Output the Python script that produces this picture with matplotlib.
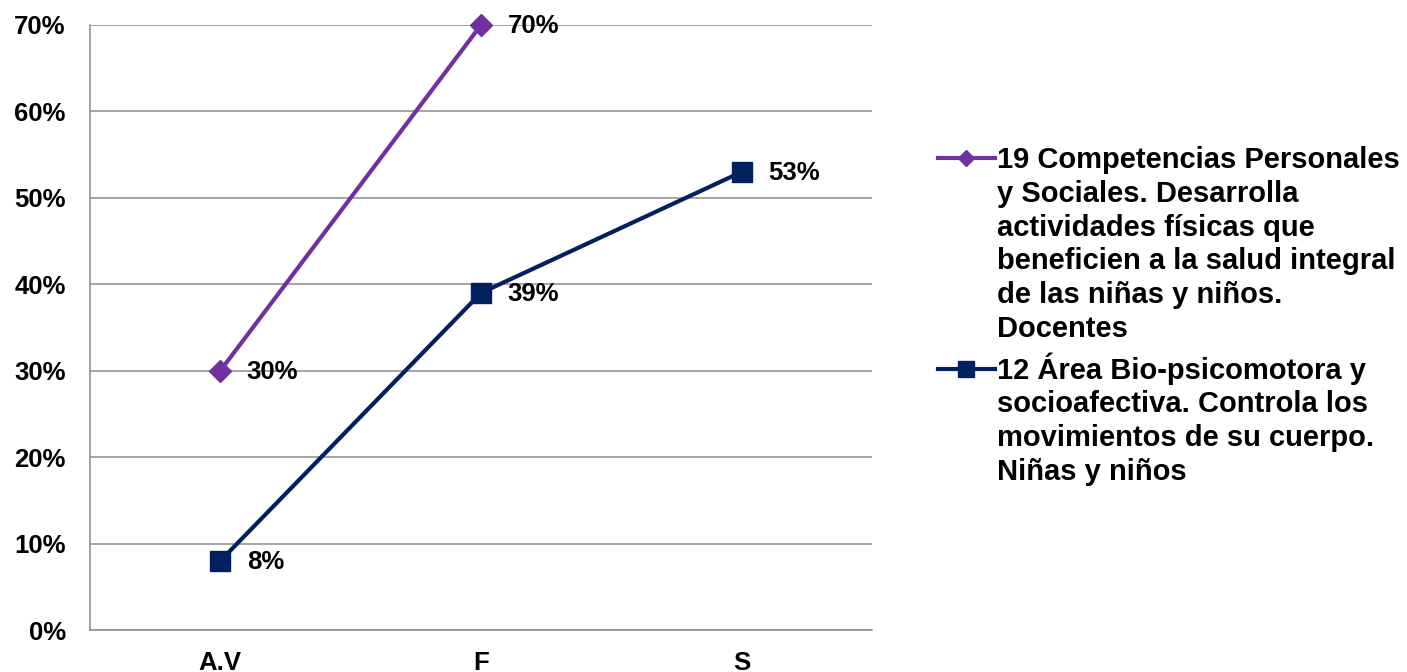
import matplotlib.pyplot as plt
from matplotlib.lines import Line2D

# ---- data ----
categories = ["A.V", "F", "S"]
docentes = [30, 70, None]
ninos = [8, 39, 53]
label_docentes = ("19 Competencias Personales\ny Sociales. Desarrolla\nactividades físicas que\n"
                  "beneficien a la salud integral\nde las niñas y niños.\nDocentes")
label_ninos = "12 Área Bio-psicomotora y\nsocioafectiva. Controla los\nmovimientos de su cuerpo.\nNiñas y niños"
y_ticks = [0, 10, 20, 30, 40, 50, 60, 70]

purple = "#7030A0"
navy = "#002060"
grid_col = "#8C8C8C"

plt.rcParams['font.family'] = ['Liberation Sans', 'DejaVu Sans']
plt.rcParams['font.weight'] = 'bold'
fs = 18.5
fs_leg = 21

W, H = 1407, 672
fig = plt.figure(figsize=(W / 100, H / 100), dpi=100)
ax = fig.add_axes([90 / W, 1 - 630 / H, (872 - 90) / W, (630 - 25) / H])

x = list(range(len(categories)))
xd = [i for i, v in zip(x, docentes) if v is not None]
yd = [v for v in docentes if v is not None]

ax.plot(xd, yd, color=purple, lw=3, marker='D', ms=11, zorder=3, clip_on=False)
ax.plot(x, ninos, color=navy, lw=3, marker='s', ms=14, zorder=4, clip_on=False)

for xi, v in zip(xd, yd):
    ax.annotate(f"{v}%", (xi, v), xytext=(19, -1), textcoords='offset points',
                ha='left', va='center', fontsize=fs, fontweight='bold')
for xi, v in zip(x, ninos):
    ax.annotate(f"{v}%", (xi, v), xytext=(19, -1), textcoords='offset points',
                ha='left', va='center', fontsize=fs, fontweight='bold')

ax.set_xlim(-0.5, 2.5)
ax.set_ylim(0, 70)
ax.set_yticks(y_ticks)
ax.set_yticklabels([f"{t}%" for t in y_ticks], fontsize=fs, fontweight='bold')
ax.set_xticks(x)
ax.set_xticklabels(categories, fontsize=fs, fontweight='bold')
ax.tick_params(axis='both', length=0)
ax.tick_params(axis='y', pad=17.5)
ax.tick_params(axis='x', pad=15)
ax.grid(axis='y', color=grid_col, lw=1.1)
ax.set_axisbelow(True)
for s in ['top', 'right']:
    ax.spines[s].set_visible(False)
for s in ['left', 'bottom']:
    ax.spines[s].set_color(grid_col)
    ax.spines[s].set_linewidth(1.1)

# ---- legend (drawn by hand so handle sits on first line) ----
def fx(px):
    return px / W

def fy(py):
    return 1 - py / H

for col, mk, ms, ly, txt, base in [(purple, 'D', 8, 158, label_docentes, 337),
                                   (navy, 's', 11, 369, label_ninos, 480)]:
    fig.add_artist(Line2D([fx(938), fx(995)], [fy(ly), fy(ly)], color=col, lw=3,
                          transform=fig.transFigure))
    fig.add_artist(Line2D([fx(966)], [fy(ly)], color=col, marker=mk, ms=ms,
                          transform=fig.transFigure))
    fig.text(fx(997), fy(base), txt, ha='left', va='baseline', fontsize=fs_leg,
             fontweight='bold', linespacing=1.265)

fig.savefig("out.png", dpi=100)
